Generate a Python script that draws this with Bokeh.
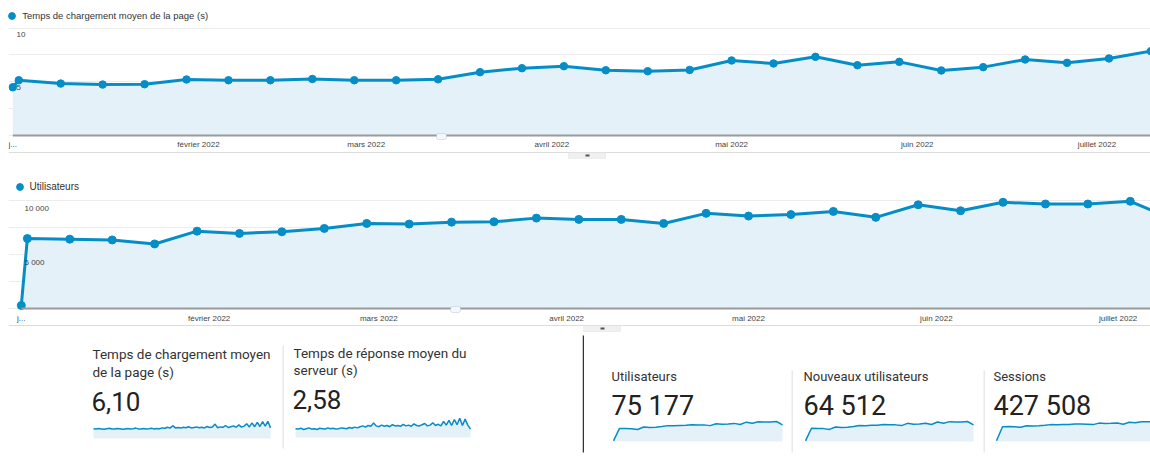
import pandas as pd
from bokeh.plotting import figure
from bokeh.layouts import column, row
from bokeh.models import (ColumnDataSource, FixedTicker, Grid, Label, BoxAnnotation,
                          Legend, LegendItem, Range1d)
from bokeh.embed import file_html
from bokeh.resources import INLINE

# ---------------- data ----------------
dates = ["2022-01-01", "2022-01-02", "2022-01-09", "2022-01-16", "2022-01-23", "2022-01-30",
         "2022-02-06", "2022-02-13", "2022-02-20", "2022-02-27", "2022-03-06", "2022-03-13",
         "2022-03-20", "2022-03-27", "2022-04-03", "2022-04-10", "2022-04-17", "2022-04-24",
         "2022-05-01", "2022-05-08", "2022-05-15", "2022-05-22", "2022-05-29", "2022-06-05",
         "2022-06-12", "2022-06-19", "2022-06-26", "2022-07-03", "2022-07-10"]
load_time = [4.49, 5.14, 4.83, 4.74, 4.77, 5.21, 5.14, 5.14, 5.26, 5.14, 5.14, 5.23, 5.89, 6.26,
             6.45, 6.07, 5.98, 6.10, 6.98, 6.70, 7.32, 6.54, 6.85, 6.05, 6.36, 7.07, 6.76, 7.17, 7.85]
users = [280, 6450, 6390, 6320, 5950, 7130, 6920, 7070, 7380, 7840, 7780, 7960, 7990, 8330,
         8210, 8210, 7840, 8770, 8520, 8660, 8950, 8400, 9560, 9010, 9790, 9630, 9630, 9880, 8250]
new_users = [250, 5600, 5520, 5460, 5120, 6150, 5950, 6080, 6350, 6760, 6690, 6850, 6870, 7160,
             7060, 7050, 6740, 7700, 7330, 7440, 7700, 7200, 8250, 7750, 8420, 8280, 8270, 8480, 7050]
sessions = [600, 12800, 12900, 12700, 12300, 13600, 13500, 13700, 14000, 14600, 14500, 14700,
            14800, 15200, 15100, 15000, 14600, 15900, 15500, 15700, 16000, 15000, 16600, 16200,
            17100, 17000, 17000, 17300, 15500]
load_daily = [4.9, 4.7, 5.0, 4.8, 4.6, 4.9, 5.1, 4.8, 4.7, 5.0, 4.9, 4.6, 4.8, 5.0, 4.7, 4.9, 5.2,
              4.8, 4.7, 5.0, 4.8, 4.9, 5.1, 4.7, 5.0, 4.9, 5.3, 5.1, 5.6, 5.2, 6.4, 5.3, 5.5, 5.2,
              5.6, 5.4, 5.9, 5.3, 5.5, 5.8, 5.4, 5.6, 5.3, 6.0, 5.5, 5.7, 7.2, 5.4, 5.8, 5.6, 6.5,
              5.5, 5.9, 6.3, 5.6, 6.8, 5.7, 6.2, 7.4, 5.8, 7.8, 5.9, 8.1, 6.0, 8.4, 6.2, 8.6, 5.3]
server_daily = [2.2, 2.1, 2.3, 2.0, 2.2, 2.4, 2.1, 2.2, 2.0, 2.3, 2.2, 2.1, 2.4, 2.2, 2.3, 2.1,
                2.2, 2.4, 2.3, 2.2, 2.5, 2.3, 2.6, 2.4, 2.7, 2.9, 2.6, 3.0, 2.8, 3.6, 2.9, 2.7,
                3.1, 2.8, 3.0, 2.7, 3.2, 2.9, 3.0, 2.8, 3.3, 2.9, 3.1, 2.8, 3.4, 3.0, 2.9, 3.2,
                3.5, 2.9, 3.1, 3.7, 3.0, 3.3, 2.9, 4.0, 3.1, 4.3, 3.0, 4.5, 3.2, 4.8, 3.0, 4.6,
                3.1, 2.1]
month_dates = ["2022-01-01", "2022-02-01", "2022-03-01", "2022-04-01", "2022-05-01",
               "2022-06-01", "2022-07-01"]
month_labels = ["j...", "février 2022", "mars 2022", "avril 2022", "mai 2022",
                "juin 2022", "juillet 2022"]
load_grid = [0, 2.5, 5, 7.5, 10]
load_ticks = [5, 10]
load_tick_labels = ["5", "10"]
users_grid = [0, 2500, 5000, 7500, 10000]
users_ticks = [5000, 10000]
users_tick_labels = ["5 000", "10 000"]

# ---------------- styles ----------------
BLUE = "#058dc7"
FILL = "#e5f1f9"
F_CHART = "Liberation Sans"
F_CARD = "Roboto"
DAY_MS = 86400000.0
W = 1150
MB_LEFT = 8


def ms(d):
    return pd.Timestamp(d).value / 1e6


def screen_box(fl, fb, x0, x1, y0, y1, **kw):
    return BoxAnnotation(left=x0 - fl, right=x1 - fl, bottom=fb - y1, top=fb - y0,
                         left_units="screen", right_units="screen",
                         bottom_units="screen", top_units="screen", **kw)


def chart(title, yvals, grid_ticks, ticks, tick_labels, fig_top, fig_h, x_first, ppd,
          zero_px, ppu, dot, dot_size, legend_font, ylab_x, xlab_y, sep_y, tab_x, icon):
    fl = MB_LEFT
    ft = fig_top
    fb = fig_top + fig_h
    t0 = ms(dates[0])
    xr = Range1d(t0 - (x_first - fl) / ppd * DAY_MS, t0 + (W - x_first) / ppd * DAY_MS)
    yr = Range1d(-(fb - zero_px) / ppu, (zero_px - ft) / ppu)
    p = figure(width=W, height=fig_h, x_range=xr, y_range=yr, x_axis_type="datetime",
               x_axis_location=None, y_axis_location=None, toolbar_location=None,
               output_backend="svg", min_border_left=fl, min_border_right=0,
               min_border_top=0, min_border_bottom=0, outline_line_color=None,
               background_fill_color="white", border_fill_color="white")
    p.grid.visible = False
    p.add_layout(Grid(dimension=1, ticker=FixedTicker(ticks=grid_ticks),
                      grid_line_color="#ececec", grid_line_width=1))
    src = ColumnDataSource(dict(x=pd.to_datetime(dates), y=yvals, z=[0] * len(yvals)))
    p.varea(x="x", y1="z", y2="y", source=src, fill_color=FILL, fill_alpha=1)
    # baseline (x axis line) starting at the first date
    p.add_layout(BoxAnnotation(left=t0, right=xr.end, bottom=fb - zero_px - 1,
                               top=fb - zero_px + 1, bottom_units="screen", top_units="screen",
                               fill_color="#9a9a9a", fill_alpha=1, line_color=None))
    p.line(x="x", y="y", source=src, line_color=BLUE, line_width=3)
    pts = p.scatter(x="x", y="y", source=src, size=dot_size, fill_color=BLUE, line_color=BLUE)

    # annotation marker on the axis
    p.add_layout(screen_box(fl, fb, icon[0], icon[0] + 10, icon[1], icon[1] + 6,
                            fill_color="#f4f8fc", fill_alpha=1, line_color="#8fa9c9",
                            line_width=1, border_radius=2))
    # separator below the chart + small tab
    p.add_layout(screen_box(fl, fb, fl, W, sep_y - 0.5, sep_y + 0.5,
                            fill_color="#dcdcdc", fill_alpha=1, line_color=None))
    p.add_layout(screen_box(fl, fb, tab_x, tab_x + 37, sep_y, sep_y + 6,
                            fill_color="#f0f0f0", fill_alpha=1, line_color="#d6d6d6",
                            line_width=1))
    p.add_layout(screen_box(fl, fb, tab_x + 17, tab_x + 21, sep_y + 2, sep_y + 4,
                            fill_color="#555555", fill_alpha=1, line_color=None))

    # month labels
    for d, lab in zip(month_dates, month_labels):
        p.add_layout(Label(x=ms(d), y=fb - xlab_y, x_units="data", y_units="screen",
                           text=lab, text_font=F_CHART, text_font_size="8px",
                           text_color="#444444", text_baseline="middle", text_align="center"))
    # value labels
    for t, lab in zip(ticks, tick_labels):
        p.add_layout(Label(x=ylab_x - fl, y=t, x_units="screen", y_units="data", y_offset=-3.5,
                           text=lab, text_font=F_CHART, text_font_size="8px",
                           text_color="#444444", text_baseline="top", text_align="left"))

    G = 17
    vx = (dot[0] - G / 2) - fl
    vy = fb - (dot[1] - G / 2 + G)
    leg = Legend(items=[LegendItem(label=title, renderers=[pts])], location=(vx, vy),
                 padding=0, margin=0, spacing=0, glyph_width=G, glyph_height=G,
                 label_height=G, label_width=10, label_standoff=2,
                 label_text_font=F_CHART, label_text_font_size=legend_font,
                 label_text_color="#333333", background_fill_alpha=0, border_line_alpha=0)
    p.add_layout(leg)
    return p


top = chart("Temps de chargement moyen de la page (s)", load_time, load_grid, load_ticks,
            load_tick_labels, fig_top=0, fig_h=160, x_first=12.3, ppd=5.99, zero_px=135,
            ppu=10.75, dot=(11.7, 15), dot_size=7.5, legend_font="9.5px", ylab_x=16,
            xlab_y=144, sep_y=152, tab_x=568, icon=(436, 133))

bottom = chart("Utilisateurs", users, users_grid, users_ticks, users_tick_labels,
               fig_top=160, fig_h=172, x_first=20.8, ppd=6.06, zero_px=308, ppu=0.01085,
               dot=(19, 186), dot_size=8, legend_font="10px", ylab_x=24, xlab_y=317.5,
               sep_y=325, tab_x=583, icon=(450, 306))

ROW_TOP = 332
ROW_H = 130
ROW_BOT = ROW_TOP + ROW_H


def card(L, Wd, sep, sx0, sx1, base, top_px, vals, vmax, texts):
    n = len(vals)
    ppi = (sx1 - sx0) / (n - 1)
    ppu = (base - top_px) / vmax
    xr = Range1d(-(sx0 - L) / ppi, (n - 1) + (L + Wd - sx1) / ppi)
    yr = Range1d(-(ROW_BOT - base) / ppu, (base - ROW_TOP) / ppu)
    p = figure(width=Wd, height=ROW_H, x_range=xr, y_range=yr, x_axis_location=None,
               y_axis_location=None, toolbar_location=None, output_backend="svg",
               min_border_left=0, min_border_right=0, min_border_top=0,
               min_border_bottom=0, outline_line_color=None,
               background_fill_color="white", border_fill_color="white")
    p.grid.visible = False
    idx = list(range(n))
    p.varea(x=idx, y1=[0] * n, y2=vals, fill_color=FILL, fill_alpha=1)
    p.line(idx, vals, line_color=BLUE, line_width=1.5)
    if sep is not None:
        color, lw, y0, y1 = sep
        p.add_layout(screen_box(L, ROW_BOT, L, L + lw, y0, y1,
                                fill_color=color, fill_alpha=1, line_color=None))
    for txt, tx, ty, size, color in texts:
        p.add_layout(Label(x=tx - L, y=ROW_BOT - ty, x_units="screen", y_units="screen",
                           text=txt, text_font=F_CARD, text_font_size=size,
                           text_color=color, text_baseline="middle", text_align="left"))
    return p


cA = card(0, 282, None, 93, 270, 438, 418, load_daily, 10,
          [("Temps de chargement moyen", 92, 353, "13.5px", "#333333"),
           ("de la page (s)", 92, 371, "13.5px", "#333333"),
           ("6,10", 91, 401, "26px", "#222222")])
cB = card(282, 300, ("#d4d4d4", 1, 345, 448), 295, 470, 437, 417, server_daily, 5,
          [("Temps de réponse moyen du", 293, 352, "13.5px", "#333333"),
           ("serveur (s)", 293, 369, "13.5px", "#333333"),
           ("2,58", 292, 399, "26px", "#222222")])
cC = card(582, 209, ("#333333", 1.5, 335, 452), 613, 782, 441, 421, users, max(users),
          [("Utilisateurs", 611, 376, "13px", "#333333"),
           ("75 177", 611, 405, "27px", "#222222")])
cD = card(791, 192, ("#d4d4d4", 1, 370, 452), 805, 973, 441, 421, new_users, max(new_users),
          [("Nouveaux utilisateurs", 803, 376, "13px", "#333333"),
           ("64 512", 803, 405, "27px", "#222222")])
cE = card(983, 167, ("#d4d4d4", 1, 370, 452), 996, 1165, 441, 421, sessions, max(sessions),
          [("Sessions", 993, 376, "13px", "#333333"),
           ("427 508", 993, 405, "27px", "#222222")])

layout = column(top, bottom, row(cA, cB, cC, cD, cE, spacing=0), spacing=0)
open("out.html", "w").write(file_html(layout, INLINE))
